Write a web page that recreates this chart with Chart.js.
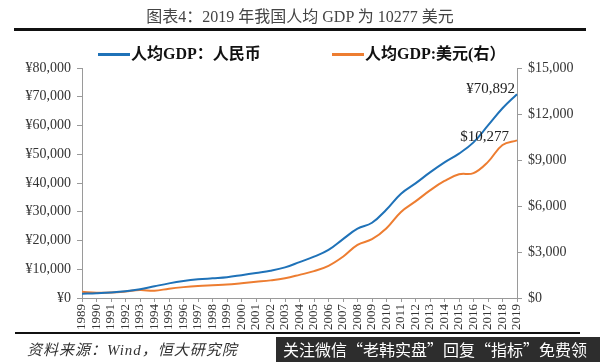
<!DOCTYPE html>
<html>
<head>
<meta charset="utf-8">
<script src="https://cdn.jsdelivr.net/npm/chart.js@4/dist/chart.umd.min.js"></script>
<style>
  html, body { margin: 0; padding: 0; background: #fff; }
  #wrap { position: relative; width: 600px; height: 362px; overflow: hidden; }
  #chart { position: absolute; left: 0; top: 0; }
  .title { position: absolute; left: 0; top: 3px; width: 600px; text-align: center;
    font: 16px "Liberation Serif", "Noto Sans CJK SC", serif; color: #444; }
  .rule { position: absolute; left: 14px; width: 572px; top: 28px; height: 3px; background: #111; }
  .rule2 { position: absolute; left: 15px; width: 565px; top: 332px; height: 2px; background: #111; }
  .source { position: absolute; left: 27px; top: 338px; letter-spacing: 1px;
    font: italic 15px "Liberation Serif", "Noto Sans CJK SC", serif; color: #333; }
  .mark { position: absolute; left: 276px; top: 337px; width: 324px; height: 25px; background: #2d2d2d;
    color: #fff; font: 16px "Noto Sans CJK SC", sans-serif; line-height: 25px; padding-left: 7px; box-sizing: border-box; white-space: nowrap; }
  #legend { position: absolute; top: 40px; left: 0; width: 600px; height: 20px; }
  .item { position: absolute; top: 0; height: 20px; line-height: 20px; white-space: nowrap;
    font: bold 16px "Liberation Serif", "Noto Sans CJK SC", serif; color: #111; }
  .item i { display: inline-block; width: 32px; height: 3px; vertical-align: middle; margin-right: 1px; position: relative; top: -1px; }
</style>
</head>
<body>
<div id="wrap">
  <canvas id="chart" width="600" height="362"></canvas>
  <div class="title">图表4：2019 年我国人均 GDP 为 10277 美元</div>
  <div class="rule"></div>
  <div id="legend"></div>
  <div class="rule2"></div>
  <div class="source">资料来源：Wind，恒大研究院</div>
  <div class="mark">关注微信“老韩实盘”回复“指标”免费领</div>
</div>
<script>
// years on the x axis
const years = ['1989','1990','1991','1992','1993','1994','1995','1996','1997','1998',
  '1999','2000','2001','2002','2003','2004','2005','2006','2007','2008',
  '2009','2010','2011','2012','2013','2014','2015','2016','2017','2018','2019'];

// per-capita GDP, RMB (left axis)
const gdpRmb = [1519, 1663, 1912, 2334, 3027, 4081, 5091, 5898, 6481, 6860,
  7229, 7942, 8717, 9506, 10666, 12487, 14368, 16738, 20494, 24100,
  26180, 30808, 36302, 39874, 43684, 47173, 50237, 54139, 60014, 66006, 70892];

// per-capita GDP, USD (right axis)
const gdpUsd = [403, 347, 357, 423, 520, 473, 609, 709, 782, 829,
  873, 959, 1053, 1149, 1289, 1509, 1753, 2099, 2694, 3468,
  3832, 4550, 5614, 6300, 7020, 7636, 8066, 8147, 8879, 9977, 10277];

const seriesNames = ['人均GDP：人民币', '人均GDP:美元(右）'];
const leftTicks = { min: 0, max: 80000, step: 10000 };
const rightTicks = { min: 0, max: 15000, step: 3000 };

const BLUE = '#1F72B8';
const ORANGE = '#ED7D31';
const AXIS = '#9A9A9A';
const serif = '"Liberation Serif", "Noto Sans CJK SC", serif';

// label on the last point of each line
const endLabels = {
  id: 'endLabels',
  afterDatasetsDraw(chart) {
    const ctx = chart.ctx;
    ctx.save();
    ctx.font = '15px ' + serif;
    ctx.fillStyle = '#222';
    ctx.textAlign = 'right';
    ctx.textBaseline = 'middle';

    const m0 = chart.getDatasetMeta(0);
    const p0 = m0.data[m0.data.length - 1];
    ctx.fillText('¥' + gdpRmb[gdpRmb.length - 1].toLocaleString('en-US'), p0.x - 2, p0.y - 5);

    const m1 = chart.getDatasetMeta(1);
    const p1 = m1.data[m1.data.length - 1];
    ctx.fillText('$' + gdpUsd[gdpUsd.length - 1].toLocaleString('en-US'), p1.x - 8, p1.y - 3);
    ctx.restore();
  }
};

const chart = new Chart(document.getElementById('chart'), {
  type: 'line',
  data: {
    labels: years,
    datasets: [{
      label: seriesNames[0],
      data: gdpRmb,
      borderColor: BLUE,
      backgroundColor: BLUE,
      borderWidth: 2,
      pointRadius: 0,
      tension: 0.4,
      yAxisID: 'y'
    }, {
      label: seriesNames[1],
      data: gdpUsd,
      borderColor: ORANGE,
      backgroundColor: ORANGE,
      borderWidth: 2,
      pointRadius: 0,
      tension: 0.4,
      yAxisID: 'y1'
    }]
  },
  options: {
    responsive: false,
    animation: false,
    layout: { padding: { top: 68, bottom: 30, left: 0, right: 0 } },
    plugins: {
      legend: { display: false },
      tooltip: { enabled: false }
    },
    scales: {
      x: {
        ticks: {
          color: '#333',
          autoSkip: false,
          maxRotation: 90,
          minRotation: 90,
          padding: 2,
          font: { family: serif, size: 13 }
        },
        grid: { drawOnChartArea: false, color: AXIS, tickLength: 4 },
        border: { color: AXIS },
        afterFit(scale) { scale.height = 34; }
      },
      y: {
        position: 'left',
        min: leftTicks.min,
        max: leftTicks.max,
        ticks: {
          stepSize: leftTicks.step,
          color: '#333',
          padding: 6,
          font: { family: serif, size: 14 },
          callback: v => '¥' + v.toLocaleString('en-US')
        },
        grid: { drawOnChartArea: false, color: AXIS, tickLength: 5 },
        border: { color: AXIS },
        afterFit(scale) { scale.width = 82; }
      },
      y1: {
        position: 'right',
        min: rightTicks.min,
        max: rightTicks.max,
        ticks: {
          stepSize: rightTicks.step,
          color: '#333',
          padding: 6,
          font: { family: serif, size: 14 },
          callback: v => '$' + v.toLocaleString('en-US')
        },
        grid: { drawOnChartArea: false, color: AXIS, tickLength: 5 },
        border: { color: AXIS },
        afterFit(scale) { scale.width = 83; }
      }
    }
  },
  plugins: [endLabels]
});

// legend built from the datasets
const legendLeft = [98, 332];
const legend = document.getElementById('legend');
chart.data.datasets.forEach((ds, i) => {
  const el = document.createElement('div');
  el.className = 'item';
  el.style.left = legendLeft[i] + 'px';
  el.innerHTML = '<i style="background:' + ds.borderColor + '"></i>' + ds.label;
  legend.appendChild(el);
});
</script>
</body>
</html>
